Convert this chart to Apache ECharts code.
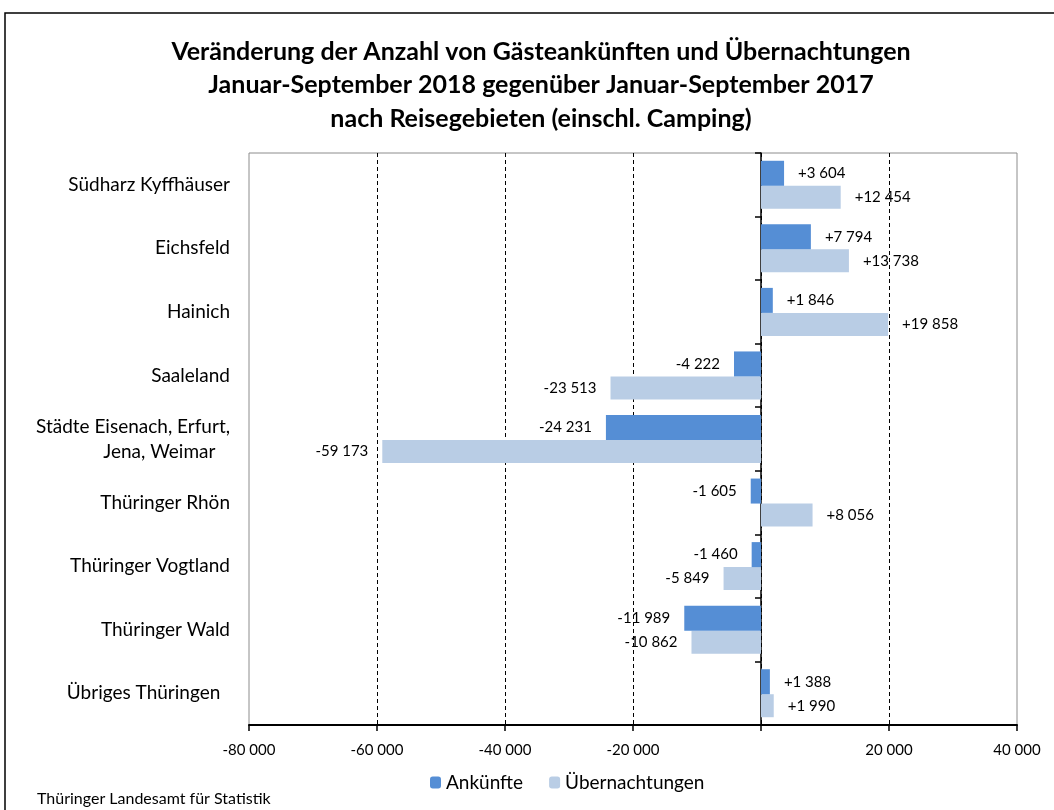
<!DOCTYPE html>
<html>
<head>
<meta charset="utf-8">
<script src="https://cdn.jsdelivr.net/npm/echarts@6/dist/echarts.min.js"></script>
<style>
html,body{margin:0;padding:0;background:#fff;}
#chart{width:1054px;height:810px;}
</style>
</head>
<body>
<div id="chart"></div>
<script>
const titleLines = [
  'Veränderung der Anzahl von Gästeankünften und Übernachtungen',
  'Januar-September 2018 gegenüber Januar-September 2017',
  'nach Reisegebieten (einschl. Camping)'
];
const categories = [
  'Südharz Kyffhäuser',
  'Eichsfeld',
  'Hainich',
  'Saaleland',
  'Städte Eisenach, Erfurt,\nJena, Weimar   ',
  'Thüringer Rhön',
  'Thüringer Vogtland',
  'Thüringer Wald',
  'Übriges Thüringen  '
];
const seriesNames = ['Ankünfte', 'Übernachtungen'];
const ankuenfte = [3604, 7794, 1846, -4222, -24231, -1605, -1460, -11989, 1388];
const uebernachtungen = [12454, 13738, 19858, -23513, -59173, 8056, -5849, -10862, 1990];
const xMin = -80000, xMax = 40000, xInterval = 20000;
const footer = 'Thüringer Landesamt für Statistik';

const FONT = 'Lato';
function fmt(v) {
  const s = Math.abs(v).toString().replace(/\B(?=(\d{3})+(?!\d))/g, ' ');
  return (v < 0 ? '-' : '') + s;
}
function fmtSigned(v) {
  return (v > 0 ? '+' : '') + fmt(v);
}
function mkData(vals) {
  return vals.map(v => ({ value: v, label: { position: v >= 0 ? 'right' : 'left' } }));
}

const chart = echarts.init(document.getElementById('chart'), null, { renderer: 'canvas' });
const labelStyle = {
  show: true, distance: 14, color: '#000', fontFamily: FONT, fontSize: 15,
  formatter: p => fmtSigned(p.value)
};
chart.setOption({
  animation: false,
  backgroundColor: '#fff',
  textStyle: { fontFamily: FONT },
  graphic: [
    { type: 'rect', shape: { x: 5, y: 13, width: 1100, height: 900 },
      style: { fill: 'none', stroke: '#000', lineWidth: 1.5 }, silent: true },
    { type: 'text', x: 541, y: 35,
      style: { text: titleLines.join('\n'), align: 'center', verticalAlign: 'top',
        fontFamily: FONT, fontWeight: 'bold', fontSize: 25, lineHeight: 33.5, fill: '#000' } },
    { type: 'text', left: 37, top: 791,
      style: { text: footer, fontFamily: FONT, fontSize: 16, fill: '#000' } }
  ],
  legend: {
    data: seriesNames,
    left: 425, top: 768,
    itemWidth: 11, itemHeight: 12, itemGap: 26,
    textStyle: { fontFamily: FONT, fontSize: 19, color: '#000' }
  },
  grid: {
    left: 249, right: 37, top: 153, bottom: 85,
    show: true, borderColor: '#8c8c8c', borderWidth: 1
  },
  xAxis: {
    type: 'value', min: xMin, max: xMax, interval: xInterval,
    axisLine: { show: true, onZero: false, lineStyle: { color: '#000', width: 2 } },
    axisTick: { show: true, length: 6, lineStyle: { color: '#000', width: 1.5 } },
    axisLabel: { fontFamily: FONT, fontSize: 15, color: '#000', margin: 18,
      formatter: v => v === 0 ? '' : fmt(v) },
    splitLine: { show: true, showMinLine: false, showMaxLine: false,
      lineStyle: { color: '#000', type: [4, 3], width: 1 } }
  },
  yAxis: [
    {
      type: 'category', data: categories, inverse: true, position: 'left',
      axisLine: { show: false, onZero: false },
      axisTick: { show: false },
      axisLabel: { fontFamily: FONT, fontSize: 19, color: '#000', margin: 19, lineHeight: 25, align: 'right' },
      splitLine: { show: false }
    },
    {
      type: 'category', data: categories, inverse: true, position: 'right',
      axisLine: { show: true, onZero: true, lineStyle: { color: '#000', width: 1.5 } },
      axisTick: { show: true, inside: true, length: 6, lineStyle: { color: '#000', width: 1.5 } },
      axisLabel: { show: false },
      splitLine: { show: false }
    }
  ],
  series: [
    {
      name: seriesNames[0], type: 'bar', yAxisIndex: 0,
      data: mkData(ankuenfte), barWidth: 25, barGap: '0%', z: 3,
      itemStyle: { color: '#558ED5' }, label: labelStyle
    },
    {
      name: seriesNames[1], type: 'bar', yAxisIndex: 0,
      data: mkData(uebernachtungen), barWidth: 23, barGap: '0%', z: 2,
      itemStyle: { color: '#B9CDE5' }, label: labelStyle
    }
  ]
});
</script>
</body>
</html>
